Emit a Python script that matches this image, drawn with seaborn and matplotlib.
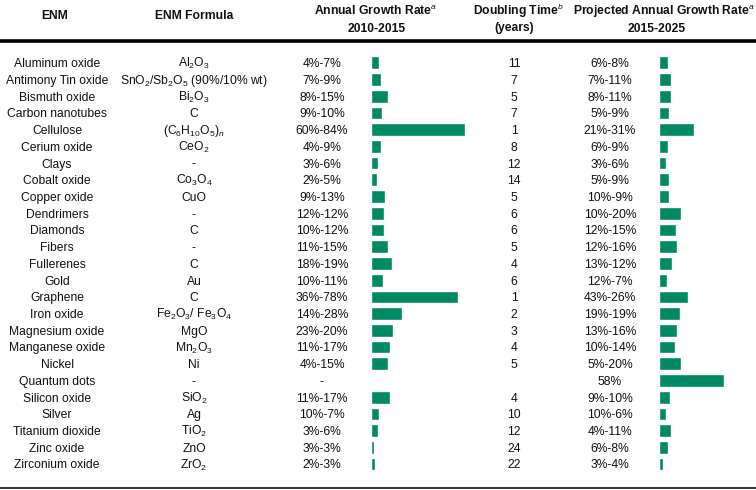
import numpy as np
import pandas as pd
import matplotlib
matplotlib.use("Agg")
import matplotlib.pyplot as plt
import seaborn as sns

# table data
enm = ["Aluminum oxide", "Antimony Tin oxide", "Bismuth oxide", "Carbon nanotubes",
       "Cellulose", "Cerium oxide", "Clays", "Cobalt oxide", "Copper oxide",
       "Dendrimers", "Diamonds", "Fibers", "Fullerenes", "Gold", "Graphene",
       "Iron oxide", "Magnesium oxide", "Manganese oxide", "Nickel", "Quantum dots",
       "Silicon oxide", "Silver", "Titanium dioxide", "Zinc oxide", "Zirconium oxide"]
formula = [r"Al$_2$O$_3$", r"SnO$_2$/Sb$_2$O$_5$ (90%/10% wt)", r"Bi$_2$O$_3$", "C",
           r"(C$_6$H$_{10}$O$_5$)$_n$", r"CeO$_2$", "-", r"Co$_3$O$_4$", "CuO",
           "-", "C", "-", "C", "Au", "C",
           r"Fe$_2$O$_3$/ Fe$_3$O$_4$", "MgO", r"Mn$_2$O$_3$", "Ni", "-",
           r"SiO$_2$", "Ag", r"TiO$_2$", "ZnO", r"ZrO$_2$"]
growth_text = ["4%-7%", "7%-9%", "8%-15%", "9%-10%", "60%-84%", "4%-9%", "3%-6%",
               "2%-5%", "9%-13%", "12%-12%", "10%-12%", "11%-15%", "18%-19%",
               "10%-11%", "36%-78%", "14%-28%", "23%-20%", "11%-17%", "4%-15%", "-",
               "11%-17%", "10%-7%", "3%-6%", "3%-3%", "2%-3%"]
growth_bar = [7, 9, 15, 10, 84, 9, 6, 5, 13, 12, 12, 15, 19, 11, 78, 28, 20, 17, 15,
              np.nan, 17, 7, 6, 3, 4]
doubling = ["11", "7", "5", "7", "1", "8", "12", "14", "5", "6", "6", "5", "4", "6",
            "1", "2", "3", "4", "5", "", "4", "10", "12", "24", "22"]
proj_text = ["6%-8%", "7%-11%", "8%-11%", "5%-9%", "21%-31%", "6%-9%", "3%-6%",
             "5%-9%", "10%-9%", "10%-20%", "12%-15%", "12%-16%", "13%-12%", "12%-7%",
             "43%-26%", "19%-19%", "13%-16%", "10%-14%", "5%-20%", "58%", "9%-10%",
             "10%-6%", "4%-11%", "6%-8%", "3%-4%"]
proj_bar = [8, 11, 11, 9, 31, 8, 6, 9, 9, 20, 15, 16, 12, 7, 26, 19, 16, 14, 20, 58,
            10, 6, 11, 8, 4]

sns.set_theme(style="white")
plt.rcParams["font.family"] = ["Liberation Sans", "DejaVu Sans"]
plt.rcParams["mathtext.fontset"] = "custom"
plt.rcParams["mathtext.rm"] = "Liberation Sans"
plt.rcParams["mathtext.it"] = "Liberation Sans:italic"
plt.rcParams["mathtext.bf"] = "Liberation Sans:bold"

W, H = 756, 490
fig = plt.figure(figsize=(W / 100, H / 100), dpi=100)
ax = fig.add_axes([0, 0, 1, 1])
ax.set_xlim(0, W)
ax.set_ylim(H, 0)
ax.axis("off")

GREEN = "#008a63"
TXT = "#111111"
fs = 8.7
row0, dy = 62.8, 16.72
rows_y = row0 + dy * np.arange(len(enm))

# header
hdr = dict(fontsize=fs, fontweight="bold", ha="center", va="baseline", color=TXT)
ax.text(55, 19.3, "ENM", **hdr)
ax.text(194, 19.3, "ENM Formula", **hdr)
ax.text(376, 15, r"Annual Growth Rate$^{a}$", **hdr)
ax.text(377, 31.5, "2010-2015", **hdr)
ax.text(518, 15, r"Doubling Time$^{b}$", **hdr)
ax.text(514, 31.5, "(years)", **hdr)
ax.text(664, 15, r"Projected Annual Growth Rate$^{a}$", **hdr)
ax.text(657, 31.5, "2015-2025", **hdr)

ax.plot([0, W], [41.3, 41.3], color="black", lw=2.6, solid_capstyle="butt")
ax.plot([0, W], [487.7, 487.7], color="#333333", lw=1.4, solid_capstyle="butt")

# body text
body = dict(fontsize=fs, ha="center", va="baseline", color=TXT)
for i, y in enumerate(rows_y):
    yb = y + 4.4
    ax.text(57, yb, enm[i], **body)
    ax.text(194, yb, formula[i], **body)
    ax.text(322, yb, growth_text[i], **body)
    ax.text(514, yb, doubling[i], **body)
    ax.text(610, yb, proj_text[i], **body)


def bar_column(x0, values, width_px):
    px_per_pct = 1.115
    top = rows_y[0] - dy / 2
    bottom = rows_y[-1] + dy / 2
    bax = fig.add_axes([x0 / W, 1 - bottom / H, width_px / W, (bottom - top) / H])
    df = pd.DataFrame({"enm": enm, "val": values}).dropna()
    sns.barplot(data=df, x="val", y="enm", order=enm, color=GREEN, saturation=1,
                width=0.76, errorbar=None, orient="h", ax=bax)
    bax.set_xlim(0, width_px / px_per_pct)
    bax.set_ylim(len(enm) - 0.5, -0.5)
    bax.axis("off")


bar_column(371, growth_bar, 110)
bar_column(659, proj_bar, 95)

fig.savefig("out.png", dpi=100)
